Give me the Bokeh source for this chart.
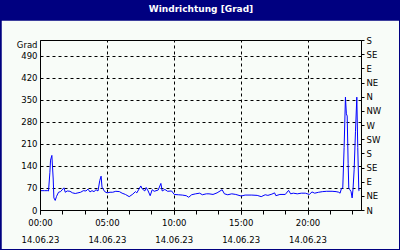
from bokeh.plotting import figure
from bokeh.layouts import column
from bokeh.models import Range1d, LinearAxis, FixedTicker
from bokeh.core.properties import value
from bokeh.embed import file_html
from bokeh.resources import INLINE

# ---- data (hours since 14.06.23 00:00, wind direction in degrees) ----
hours = [0.0, 0.3, 0.55, 0.6, 0.7, 0.75, 0.85, 0.95, 1.0, 1.1, 1.2, 1.35, 1.5, 1.75, 1.85,
         2.0, 2.2, 2.4, 2.6, 2.8, 3.0, 3.2, 3.4, 3.55, 3.7, 3.85, 4.0, 4.15, 4.3, 4.43, 4.53,
         4.6, 4.8, 4.98, 5.2, 5.4, 5.63, 5.9, 6.1, 6.35, 6.63, 6.9, 7.1, 7.2, 7.5, 7.6, 7.8,
         7.9, 8.05, 8.2, 8.35, 8.5, 8.8, 9.0, 9.1, 9.3, 9.5, 9.8, 10.0, 10.3, 10.6, 10.9,
         11.08, 11.3, 11.6, 11.9, 12.1, 12.4, 12.6, 12.9, 13.2, 13.58, 13.75, 14.0, 14.3,
         14.6, 15.0, 15.3, 15.8, 16.2, 16.5, 16.8, 17.0, 17.3, 17.5, 17.6, 17.9, 18.3, 18.55,
         18.7, 18.9, 19.2, 19.5, 19.8, 20.1, 20.3, 20.5, 20.8, 21.1, 21.4, 21.8, 22.1, 22.3,
         22.4, 22.5, 22.6, 22.7, 22.8, 22.87, 22.93, 23.0, 23.05, 23.13, 23.22, 23.3, 23.37,
         23.45, 23.55, 23.65, 23.72, 23.8, 23.85]
direction = [63, 63, 63, 62, 120, 160, 175, 100, 40, 32, 45, 58, 60, 72, 58,
             62, 61, 56, 54, 56, 58, 63, 62, 68, 59, 63, 60, 66, 62, 95, 109,
             74, 60, 56, 58, 58, 61, 60, 55, 51, 44, 52, 60, 56, 78, 69, 62,
             73, 62, 47, 66, 61, 65, 86, 62, 67, 61, 62, 51, 50, 49, 47,
             42, 50, 53, 55, 50, 53, 53, 51, 56, 66, 53, 50, 53,
             51, 46, 49, 49, 48, 44, 50, 48, 52, 56, 47, 51, 51, 64,
             53, 55, 53, 55, 55, 51, 59, 55, 58, 60, 61, 61, 60, 58,
             55, 70, 72, 200, 360, 307, 300, 150, 70, 66, 60, 40, 70,
             130, 250, 360, 200, 63, 65]

title_text = "Windrichtung [Grad]"
y_unit = "Grad"
left_ticks = [0, 70, 140, 210, 280, 350, 420, 490]
right_ticks = [0, 45, 90, 135, 180, 225, 270, 315, 360, 405, 450, 495, 540]
right_labels = ["N", "NE", "E", "SE", "S", "SW", "W", "NW", "N", "NE", "E", "SE", "S"]
x_major = [0, 5, 10, 15, 20]
x_major_labels = ["00:00\n14.06.23", "05:00\n14.06.23", "10:00\n14.06.23",
                  "15:00\n14.06.23", "20:00\n14.06.23"]
x_minor = [i * 5 / 3 for i in range(15)]

BG = "#F8FCF8"
NAVY = "#000080"
FONT = "DejaVu Sans"
FS = "8.5px"

# ---- title bar ----
tf = figure(width=398, height=20, output_backend="svg", toolbar_location=None,
            x_range=Range1d(0, 1), y_range=Range1d(0, 1),
            min_border=0, background_fill_color=NAVY, border_fill_color=NAVY)
tf.outline_line_color = None
tf.axis.visible = False
tf.grid.visible = False
tf.text(x=[0.5], y=[0.58], text=[title_text], text_align="center", text_baseline="middle",
        text_color="white", text_font=value(FONT), text_font_style="bold",
        text_font_size="9px")

# ---- main chart ----
p = figure(width=398, height=229, output_backend="svg", toolbar_location=None,
           x_range=Range1d(0, 24), y_range=Range1d(0, 540),
           min_border_left=39, min_border_right=38, min_border_top=20, min_border_bottom=39,
           background_fill_color=BG, border_fill_color=BG)
p.outline_line_color = "black"
p.outline_line_width = 1

p.line(hours, direction, line_color="#0000FF", line_width=1)

# x axis
xa = p.xaxis[0]
xa.ticker = FixedTicker(ticks=x_major, minor_ticks=x_minor)
xa.major_label_overrides = {t: l for t, l in zip(x_major, x_major_labels)}
xa.major_tick_out = 4
xa.major_tick_in = 0
xa.minor_tick_out = 4
xa.minor_tick_in = 0
xa.major_label_standoff = 3
xa.major_label_text_font = FONT
xa.major_label_text_font_size = FS
xa.major_label_text_line_height = 1.75
xa.major_label_text_color = "black"
xa.axis_line_color = "black"

# left axis (unit label "Grad" placed as the top label)
ya = p.yaxis[0]
ya.ticker = FixedTicker(ticks=left_ticks + [525])
ya.major_label_overrides = {525: y_unit}
ya.major_tick_out = 0
ya.major_tick_in = 0
ya.minor_tick_out = 0
ya.minor_tick_in = 0
ya.major_label_standoff = 3
ya.major_label_text_font = FONT
ya.major_label_text_font_size = FS
ya.major_label_text_color = "black"
ya.axis_line_color = "black"

# right axis (compass)
p.extra_y_ranges = {"dir": Range1d(0, 540)}
ra = LinearAxis(y_range_name="dir", ticker=FixedTicker(ticks=right_ticks))
ra.major_label_overrides = {t: l for t, l in zip(right_ticks, right_labels)}
ra.major_tick_out = 3
ra.major_tick_in = 0
ra.minor_tick_out = 0
ra.minor_tick_in = 0
ra.major_label_standoff = 2
ra.major_label_text_font = FONT
ra.major_label_text_font_size = FS
ra.major_label_text_color = "black"
ra.axis_line_color = "black"
p.add_layout(ra, "right")

# grids
p.xgrid.grid_line_color = "black"
p.xgrid.grid_line_dash = "3 3"
p.ygrid.ticker = FixedTicker(ticks=left_ticks)
p.ygrid.grid_line_color = "black"
p.ygrid.grid_line_dash = "3 3"

layout = column(tf, p, spacing=0,
                styles={"background-color": NAVY, "padding": "0px 1px 1px 1px"})

open("out.html", "w").write(file_html(layout, INLINE))
